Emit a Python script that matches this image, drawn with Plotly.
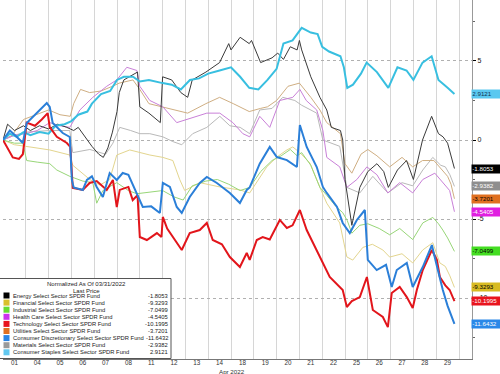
import plotly.graph_objects as go

# ---------------- data (x = trading-day position, 0 = open of Apr 01) ----------------
day_labels = ["01", "04", "05", "06", "07", "08", "11", "12", "13", "14",
              "18", "19", "20", "21", "22", "25", "26", "27", "28", "29"]

names = ["Energy Select Sector SPDR Fund", "Financial Select Sector SPDR Fund",
         "Industrial Select Sector SPDR Fund", "Health Care Select Sector SPDR Fund",
         "Technology Select Sector SPDR Fund", "Utilities Select Sector SPDR Fund",
         "Consumer Discretionary Select Sector SPDR Fund", "Materials Select Sector SPDR Fund",
         "Consumer Staples Select Sector SPDR Fund"]
last_values = [-1.8053, -9.3293, -7.0499, -4.5405, -10.1995, -3.7201, -11.6432, -2.9382, 2.9121]

energy_x = [0, 0.2, 0.5, 0.9, 1.2, 1.6, 2.0, 2.4, 2.8, 3.1, 3.3, 3.6, 3.9, 4.2, 4.4, 4.6, 4.8, 5.0, 5.1, 5.3,
            5.7, 5.9, 6.0, 6.4, 6.9, 7.0, 7.4, 7.8, 8.1, 8.3, 8.9, 9.5, 9.9, 10.0, 10.4, 10.8, 10.9, 11.3,
            11.8, 12.05, 12.3, 12.6, 12.9, 13.0, 13.1, 13.5, 13.9, 14.2, 14.4, 14.8, 14.9, 15.0, 15.3,
            15.65, 16.0, 16.4, 16.7, 16.9, 17.3, 17.7, 18.0, 18.4, 18.8, 19.1, 19.3, 19.5, 19.8]
energy_y = [0, 1.0, 0.6, 0.9, 0.6, 0.9, 0.7, 1.0, 0.8, 0.6, 0.8, 0.2, -0.4, -0.9, -1.1, -0.5, 0.5, 1.8, 3.0, 3.8,
            4.1, 4.3, 2.1, 1.7, 1.1, 4.0, 3.8, 3.0, 2.7, 3.8, 4.3, 4.9, 6.1, 5.7, 6.5, 6.1, 6.3, 4.9,
            5.2, 5.5, 5.1, 5.9, 5.7, 6.3, 5.7, 4.0, 2.7, 1.9, 0.8, 0.6, 0.0, -2.5, -5.4,
            -3.0, -2.0, -1.5, -2.0, -3.0, -1.9, -1.3, -2.5, 0.0, 1.5, 0.4, 0.2, -0.2, -1.8053]

fin_x = [0, 0.5, 1.18, 2.05, 2.93, 3.06, 3.81, 4.25, 4.68, 4.99, 5.56, 6.0, 6.44, 7.01, 7.45, 7.75, 7.97,
         8.63, 9.51, 10.39, 10.82, 11.57, 12.01, 12.45, 12.71, 13.02, 13.46, 13.89, 14.2, 14.77, 15.08,
         15.34, 15.78, 16.2, 16.66, 16.96, 17.5, 17.97, 18.41, 18.85, 19.16, 19.4, 19.6, 19.8]
fin_y = [0, -0.3, -0.44, -0.63, -0.95, -1.6, -2.5, -2.85, -2.5, -0.95, -0.63, -0.8, -0.95, -1.1, -1.3, -2.5, -3.2,
         -2.7, -2.97, -3.16, -3.35, -1.7, -1.08, -0.63, -0.44, -0.8, -1.46, -2.97, -4.0, -5.25, -7.4,
         -7.6, -6.8, -6.6, -6.96, -7.41, -7.2, -7.78, -6.96, -6.5, -7.78, -8.0, -8.6, -9.3293]

ind_x = [0, 0.5, 0.87, 1.04, 1.5, 2.05, 2.36, 2.93, 3.5, 3.94, 4.11, 4.38, 4.99, 5.5, 5.87, 6.5, 7.0, 7.5,
         7.9, 8.3, 8.9, 9.4, 9.9, 10.4, 10.82, 11.3, 11.8, 12.2, 12.6, 12.9, 13.1, 13.5, 13.9, 14.2, 14.6,
         14.9, 15.1, 15.3, 15.65, 16.0, 16.5, 16.96, 17.4, 17.97, 18.41, 18.85, 19.1, 19.29, 19.5, 19.8]
ind_y = [0, -0.2, -0.2, -1.3, -1.4, -1.5, -1.9, -2.3, -2.6, -2.7, -4.0, -3.2, -2.7, -3.2, -3.4, -3.3, -3.2, -3.6,
         -3.8, -2.9, -2.6, -2.5, -2.8, -3.2, -3.0, -2.0, -1.3, -1.0, -0.6, -1.0, -0.8, -1.6, -3.0, -3.5, -4.2,
         -4.6, -5.1, -5.9, -5.4, -5.3, -5.6, -6.0, -5.6, -6.3, -5.25, -4.9, -5.3, -5.7, -6.2, -7.0499]

hc_x = [0, 0.5, 1.0, 1.5, 2.05, 2.5, 2.93, 3.37, 3.94, 4.55, 4.99, 5.43, 5.87, 6.0, 6.44, 7.01, 7.62, 8.06,
        8.94, 9.51, 10.08, 10.52, 10.82, 11.26, 11.7, 12.14, 12.71, 13.02, 13.3, 13.76, 14.03, 14.2, 14.77,
        15.08, 15.52, 15.96, 16.4, 16.88, 17.4, 17.97, 18.41, 18.94, 19.29, 19.59, 19.8]
hc_y = [0, 0.3, 0.4, 0.6, 1.1, 0.9, 0.8, 1.9, 2.7, 3.4, 3.8, 4.6, 4.4, 3.4, 2.5, 2.1, 1.1, 1.3,
        1.7, 1.7, 1.1, 0.4, 0.2, 1.5, 0.8, 2.5, 2.7, 3.2, 2.5, 1.9, 0.6, -1.1, -1.7,
        -3.0, -2.5, -1.7, -2.2, -3.35, -2.7, -3.35, -2.5, -2.1, -2.7, -3.2, -4.5405]

tech_x = [0, 0.17, 0.43, 0.7, 0.87, 1.04, 1.4, 1.7, 1.96, 2.05, 2.36, 2.8, 2.95, 3.06, 3.5, 3.8, 4.11, 4.55,
          4.82, 4.99, 5.12, 5.5, 5.69, 5.9, 6.0, 6.31, 6.75, 6.95, 7.01, 7.2, 7.62, 7.84, 8.19, 8.63, 8.94,
          9.2, 9.6, 9.95, 10.39, 10.69, 10.82, 11.13, 11.39, 11.7, 12.14, 12.45, 12.7, 13.02, 13.32, 13.76,
          14.33, 14.9, 15.08, 15.3, 15.65, 15.96, 16.22, 16.66, 16.88, 17.05, 17.4, 17.71, 17.97, 18.15,
          18.41, 18.81, 19.03, 19.16, 19.4, 19.59, 19.8]
tech_y = [0, -0.44, -1.1, -1.2, -0.9, 1.1, 0.9, 1.3, 1.7, 0.82, 0.2, -0.19, -0.44, -3.04, -3.16, -2.72, -2.6, -3.16,
          -2.53, -4.24, -3.16, -2.97, -3.8, -3.5, -6.14, -6.33, -5.89, -6.14, -4.87, -5.6, -6.52, -6.96, -5.89, -5.7, -5.25,
          -6.33, -6.6, -7.41, -8.04, -7.15, -7.59, -6.33, -6.14, -6.3, -5.06, -5.57, -5.4, -4.43, -5.7, -6.96,
          -8.67, -9.49, -10.57, -10.2, -9.94, -8.67, -10.76, -11.2, -11.84, -9.68, -9.3, -9.94, -10.63, -9.49,
          -8.23, -6.96, -7.59, -8.67, -9.2, -9.49, -10.1995]

util_x = [0, 0.4, 0.9, 1.3, 2.0, 2.5, 2.95, 3.1, 3.4, 3.8, 4.3, 4.8, 5.1, 5.7, 6.0, 6.4, 7.0, 7.5, 8.1, 8.9,
          9.5, 10.1, 10.8, 11.3, 11.6, 12.0, 12.5, 13.0, 13.5, 13.9, 14.2, 14.8, 15.0, 15.3, 15.7, 16.0, 16.4,
          16.96, 17.5, 17.97, 18.4, 18.9, 19.3, 19.5, 19.65, 19.8]
util_y = [0, 0.3, 1.3, 1.5, 1.9, 1.6, 1.5, 2.3, 3.2, 3.0, 3.1, 3.4, 3.6, 3.8, 3.2, 2.3, 2.1, 1.9, 1.7, 2.3,
          2.7, 2.3, 1.8, 2.0, 2.1, 2.5, 3.4, 3.6, 2.7, 1.9, 1.1, 0.4, -1.5, -2.1, -0.9, -0.6, -1.0,
          -1.7, -1.1, -1.7, -1.3, -1.3, -2.0, -2.3, -2.8, -3.7201]

disc_x = [0, 0.3, 0.6, 0.87, 1.04, 1.48, 1.92, 2.05, 2.18, 2.62, 2.93, 3.02, 3.1, 3.5, 3.68, 3.9, 4.11, 4.38,
          4.68, 4.99, 5.25, 5.5, 5.87, 6.13, 6.5, 6.88, 7.01, 7.32, 7.62, 7.84, 8.19, 8.63, 8.94, 9.38, 9.95,
          10.39, 10.69, 10.82, 11.26, 11.7, 12.01, 12.45, 12.89, 13.02, 13.32, 13.76, 14.03, 14.2, 14.65, 14.9,
          15.21, 15.52, 15.87, 16.0, 16.39, 16.8, 17.05, 17.27, 17.71, 17.97, 18.41, 18.81, 19.0, 19.29, 19.5, 19.8]
disc_y = [0, 0.6, 0.2, -0.19, 1.08, 1.71, 2.34, 2.1, 1.08, 0.44, 0.19, -2.53, -3.0, -3.16, -2.53, -2.3, -2.97, -3.61,
          -2.09, -2.53, -2.09, -2.2, -3.35, -4.24, -4.2, -4.62, -2.72, -2.97, -4.24, -4.62, -3.61, -2.72, -2.34, -2.72, -3.35,
          -3.99, -3.16, -3.0, -1.5, -0.44, -1.08, -1.27, -1.71, 0.95, -0.44, -1.71, -2.97, -3.35, -4.24, -5.25,
          -5.89, -5.06, -4.43, -7.59, -8.23, -7.9, -9.3, -8.23, -7.78, -9.3, -8.04, -6.65, -7.8, -9.49, -10.5, -11.6432]

mat_x = [0, 0.5, 1.0, 2.05, 2.93, 3.06, 3.81, 4.5, 4.82, 5.12, 5.6, 6.0, 6.44, 7.01, 7.45, 7.84, 8.32, 8.94,
         9.51, 9.95, 10.4, 10.82, 11.26, 11.8, 12.27, 12.8, 13.1, 13.76, 14.03, 14.77, 15.08, 15.65, 16.22,
         16.88, 17.5, 17.97, 18.41, 18.85, 19.2, 19.4, 19.6, 19.8]
mat_y = [0, 0.3, 0.5, 0.6, 0.6, -0.8, -0.6, -0.9, -0.2, 0.8, 0.6, 0.4, 0.4, 0.2, -0.1, -0.3, 0.4, 0.8,
         1.5, 0.9, 0.8, 0.4, 1.9, 2.0, 2.7, 2.5, 2.2, 1.7, 0.0, -0.4, -3.0, -3.35, -2.3,
         -3.35, -2.7, -2.9, -1.9, -1.1, -1.6, -1.7, -2.2, -2.9382]

stap_x = [0, 0.3, 0.6, 0.9, 1.2, 1.6, 2.0, 2.3, 2.7, 3.0, 3.3, 3.7, 3.9, 4.3, 4.7, 5.0, 5.3, 5.7, 6.0, 6.4,
          7.0, 7.4, 7.8, 8.2, 8.6, 9.0, 9.5, 10.0, 10.4, 10.8, 11.2, 11.6, 12.0, 12.3, 12.7, 13.1, 13.5,
          13.8, 14.0, 14.3, 14.8, 14.95, 15.1, 15.35, 15.7, 15.95, 16.4, 16.9, 17.3, 17.7, 18.0, 18.4, 18.8,
          19.1, 19.5, 19.8]
stap_y = [0, 0.4, 0.2, 0.5, 0.3, 0.5, 0.4, 0.9, 1.0, 1.2, 1.6, 1.8, 2.3, 2.9, 3.1, 3.8, 4.0, 4.0, 3.7, 3.8,
          3.6, 3.5, 3.2, 3.8, 3.9, 4.2, 4.4, 4.6, 4.0, 3.3, 3.2, 3.8, 4.5, 6.1, 6.3, 7.1, 6.8,
          6.7, 5.9, 5.6, 5.3, 4.6, 3.3, 3.5, 4.2, 4.9, 4.3, 3.3, 4.6, 4.4, 3.8, 4.9, 5.3,
          3.8, 3.3, 2.9121]

series_x = [energy_x, fin_x, ind_x, hc_x, tech_x, util_x, disc_x, mat_x, stap_x]
series_y = [energy_y, fin_y, ind_y, hc_y, tech_y, util_y, disc_y, mat_y, stap_y]

# ---------------- styles ----------------
line_colors = ["#3a3a3a", "#e3d58e", "#98d678", "#c980d8", "#e2151b", "#cfae82", "#2b7fd8", "#b9b9b9", "#38bfe0"]
line_widths = [1, 1, 1, 1, 2, 1, 2, 1, 2]
key_colors = ["#000000", "#d9c02c", "#66dd33", "#cc33ee", "#e8141e", "#e07020", "#2a84e4", "#9a9a9a", "#62c8f0"]
tag_bg = ["#000000", "#d8bb22", "#44dd22", "#e020e0", "#e8141e", "#e07020", "#2a88e8", "#8e8e8e", "#5ac8f0"]
tag_fg = ["white", "black", "black", "white", "white", "black", "white", "white", "#113355"]

W, H = 500, 374
ML, MR, MT, MB = 3, 28, 0, 15
PW, PH = W - ML - MR, H - MT - MB

def px(x):
    return (x - ML) / PW

def py(y):
    return (H - MB - y) / PH

FONT = "Liberation Sans, Arial"
LEG_SIZE = 5.8

fig = go.Figure()
draw_order = [7, 5, 3, 1, 2, 0, 8, 4, 6]
for i in draw_order:
    fig.add_trace(go.Scatter(x=series_x[i], y=series_y[i], mode="lines", name=names[i],
                             line=dict(color=line_colors[i], width=line_widths[i]),
                             showlegend=False, hoverinfo="skip"))

annotations = []
shapes = []

# right-side value tags
for i, v in enumerate(last_values):
    annotations.append(dict(x=1, xref="paper", y=v, yref="y", xanchor="left", yanchor="middle",
                            xshift=-1, text=f"{v:.4f}", showarrow=False,
                            font=dict(family=FONT, size=6.2, color=tag_fg[i]),
                            bgcolor=tag_bg[i], borderpad=0.3, width=28, align="left"))

# legend box
shapes.append(dict(type="rect", xref="paper", yref="paper", x0=px(-1), x1=px(171), y0=py(358.5), y1=py(278.5),
                   fillcolor="white", line=dict(color="#555555", width=1), layer="above"))
annotations.append(dict(x=px(86), y=py(283.5), xref="paper", yref="paper", text="Normalized As Of 03/31/2022",
                        showarrow=False, xanchor="center", yanchor="middle",
                        font=dict(family=FONT, size=6.0, color="#222222")))
annotations.append(dict(x=px(86), y=py(290.5), xref="paper", yref="paper", text="Last Price",
                        showarrow=False, xanchor="center", yanchor="middle",
                        font=dict(family=FONT, size=6.0, color="#222222")))
for k, (nm, v) in enumerate(zip(names, last_values)):
    yy = 295.5 + 7.1 * k
    shapes.append(dict(type="rect", xref="paper", yref="paper", x0=px(3.5), x1=px(9.5),
                       y0=py(yy + 3), y1=py(yy - 3), fillcolor=key_colors[k],
                       line=dict(width=0), layer="above"))
    annotations.append(dict(x=px(10.5), y=py(yy), xref="paper", yref="paper", text=nm, showarrow=False,
                            xanchor="left", yanchor="middle",
                            font=dict(family=FONT, size=LEG_SIZE, color="#222222")))
    annotations.append(dict(x=px(169.5), y=py(yy), xref="paper", yref="paper", text=f"{v:.4f}",
                            showarrow=False, xanchor="right", yanchor="middle",
                            font=dict(family=FONT, size=LEG_SIZE, color="#222222")))

annotations.append(dict(x=px(232), y=py(371.3), xref="paper", yref="paper", text="Apr 2022", showarrow=False,
                        xanchor="center", yanchor="middle", font=dict(family=FONT, size=6.2, color="#333333")))

fig.update_layout(
    width=W, height=H, margin=dict(l=ML, r=MR, t=MT, b=MB, pad=0),
    paper_bgcolor="white", plot_bgcolor="white",
    xaxis=dict(range=[0, 20.57], tickmode="array", tickvals=[i + 0.5 for i in range(20)],
               ticktext=day_labels, showgrid=False, zeroline=False, ticks="",
               ticklabelstandoff=-3,
               tickfont=dict(family=FONT, size=6.3, color="#333333"),
               showline=True, linecolor="#777777", linewidth=1,
               minor=dict(tickmode="array", tickvals=list(range(21)), showgrid=True,
                          gridcolor="#d6d6d6", gridwidth=1)),
    yaxis=dict(range=[-13.86, 8.86], side="right", tickmode="array", tickvals=[-10, -5, 0, 5],
               ticktext=["-10", "-5", "0", "5"], showgrid=True, gridcolor="#b0b0b0", griddash="dot",
               gridwidth=1, zeroline=False, showline=True, linecolor="#999999", linewidth=1,
               ticks="outside", ticklen=3, tickcolor="#000000",
               tickfont=dict(family=FONT, size=7, color="#111111"),
               minor=dict(tickmode="array", tickvals=[-12.5, -7.5, -2.5, 2.5, 7.5], ticks="outside",
                          ticklen=2, tickcolor="#666666", showgrid=False)),
    annotations=annotations, shapes=shapes,
)

fig.write_html("out.html", config={"displayModeBar": False},
               post_script="document.body.style.margin='0';document.body.style.overflow='hidden';")
